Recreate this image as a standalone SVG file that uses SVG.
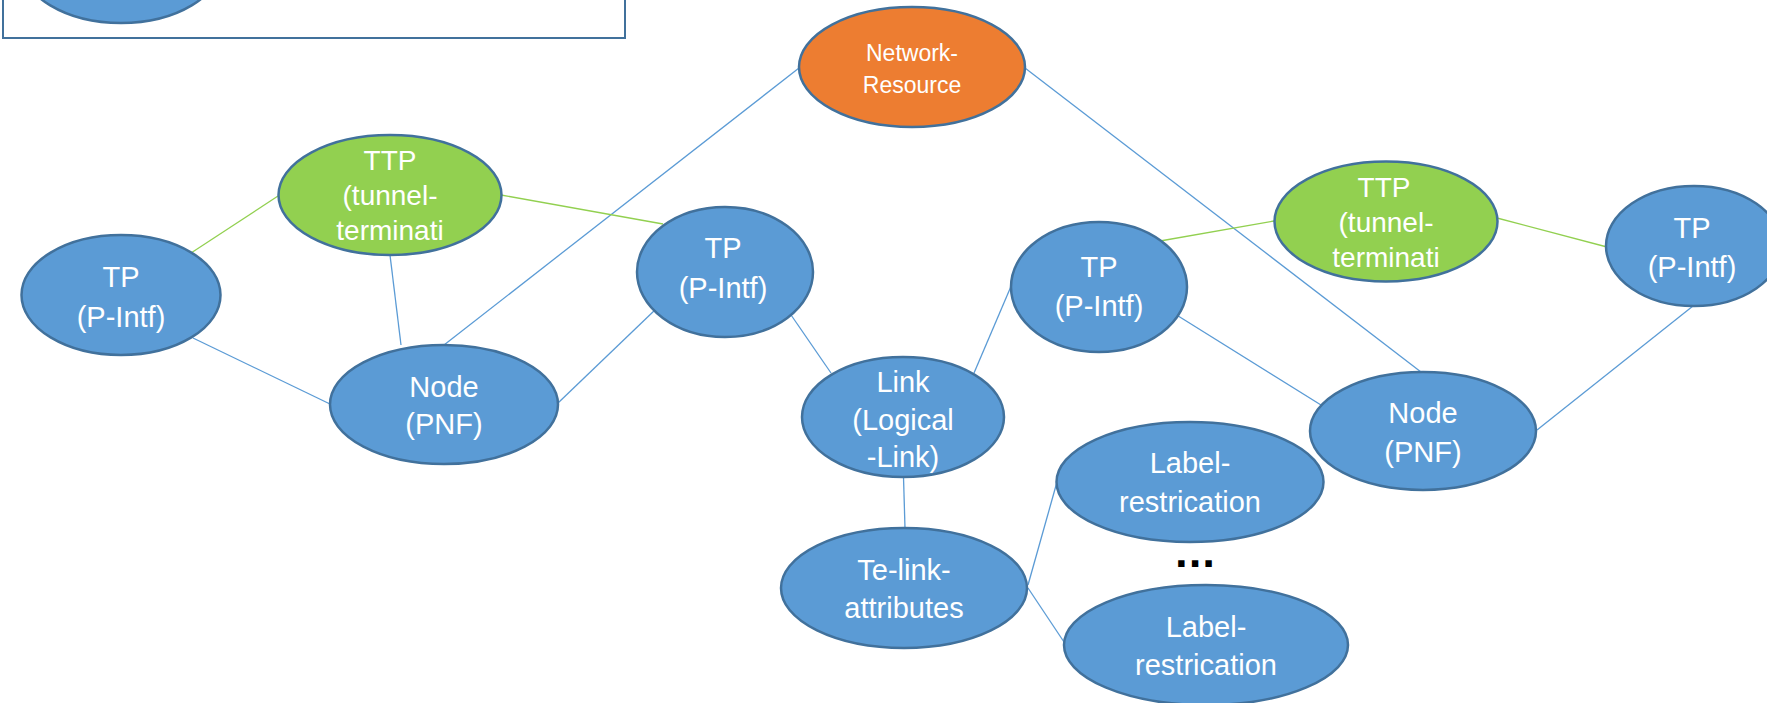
<svg xmlns="http://www.w3.org/2000/svg" width="1767" height="703" viewBox="0 0 1767 703">
<style>
.b{fill:#5b9bd5;stroke:#41719c;stroke-width:2.5}
.g{fill:#92d050;stroke:#41719c;stroke-width:2.5}
.o{fill:#ed7d31;stroke:#41719c;stroke-width:2.5}
.cb{stroke:#5b9bd5;stroke-width:1.3;fill:none}
.cg{stroke:#92d050;stroke-width:1.3;fill:none}
text{font-family:"Liberation Sans",Arial,sans-serif;fill:#ffffff;text-anchor:middle}
.t29{font-size:29px}
.t28{font-size:28px}
.t23{font-size:23px}
</style>
<rect width="1767" height="703" fill="#ffffff"/>
<g id="legend">
<rect x="3" y="-10" width="622" height="48" fill="none" stroke="#41719c" stroke-width="2"/>
<ellipse class="b" cx="121" cy="-37" rx="100" ry="60"/>
</g>
<g id="connectors">
<line class="cb" x1="799" y1="68" x2="444" y2="345"/>
<line class="cb" x1="1025" y1="68" x2="1421" y2="372"/>
<line class="cb" x1="193" y1="338" x2="330" y2="404"/>
<line class="cb" x1="390" y1="255" x2="401" y2="345"/>
<line class="cb" x1="558" y1="403" x2="656" y2="309"/>
<line class="cb" x1="789" y1="312" x2="831" y2="373"/>
<line class="cb" x1="974" y1="373" x2="1012" y2="284"/>
<line class="cb" x1="1175" y1="314" x2="1321" y2="405"/>
<line class="cb" x1="1693" y1="306" x2="1537" y2="430"/>
<line class="cb" x1="903.5" y1="477" x2="905" y2="528"/>
<line class="cb" x1="1028" y1="585" x2="1057" y2="482"/>
<line class="cb" x1="1028" y1="588" x2="1064" y2="642"/>
<line class="cg" x1="191" y1="253" x2="278" y2="196"/>
<line class="cg" x1="501" y1="195" x2="663" y2="224"/>
<line class="cg" x1="1160" y1="241" x2="1274" y2="221"/>
<line class="cg" x1="1497" y1="218" x2="1607" y2="247"/>
</g>
<g id="network-resource">
<ellipse class="o" cx="912" cy="67" rx="113" ry="60"/>
<text class="t23" x="912" y="61">Network-</text>
<text class="t23" x="912" y="93">Resource</text>
</g>
<g id="ttp-left">
<ellipse class="g" cx="390" cy="195" rx="111.5" ry="60"/>
<text class="t28" x="390" y="170">TTP</text>
<text class="t28" x="390" y="205">(tunnel-</text>
<text class="t28" x="390" y="240">terminati</text>
</g>
<g id="tp-left">
<ellipse class="b" cx="121" cy="295" rx="99.5" ry="60"/>
<text class="t29" x="121" y="287">TP</text>
<text class="t29" x="121" y="327">(P-Intf)</text>
</g>
<g id="node-left">
<ellipse class="b" cx="444" cy="404.5" rx="114" ry="59.5"/>
<text class="t29" x="444" y="397">Node</text>
<text class="t29" x="444" y="434">(PNF)</text>
</g>
<g id="tp-mid">
<ellipse class="b" cx="725" cy="272" rx="88" ry="65"/>
<text class="t29" x="723" y="258">TP</text>
<text class="t29" x="723" y="298">(P-Intf)</text>
</g>
<g id="link">
<ellipse class="b" cx="903" cy="417" rx="101" ry="60"/>
<text class="t29" x="903" y="392">Link</text>
<text class="t29" x="903" y="430">(Logical</text>
<text class="t29" x="903" y="467">-Link)</text>
</g>
<g id="tp-mid2">
<ellipse class="b" cx="1099" cy="287" rx="88" ry="65"/>
<text class="t29" x="1099" y="277">TP</text>
<text class="t29" x="1099" y="316">(P-Intf)</text>
</g>
<g id="ttp-right">
<ellipse class="g" cx="1386" cy="221.5" rx="111.5" ry="60"/>
<text class="t28" x="1384" y="197">TTP</text>
<text class="t28" x="1386" y="232">(tunnel-</text>
<text class="t28" x="1386" y="267">terminati</text>
</g>
<g id="node-right">
<ellipse class="b" cx="1423" cy="431" rx="113" ry="59"/>
<text class="t29" x="1423" y="423">Node</text>
<text class="t29" x="1423" y="462">(PNF)</text>
</g>
<g id="tp-right">
<ellipse class="b" cx="1694" cy="246" rx="88" ry="60"/>
<text class="t29" x="1692" y="238">TP</text>
<text class="t29" x="1692" y="277">(P-Intf)</text>
</g>
<g id="te-link-attributes">
<ellipse class="b" cx="904" cy="588" rx="123" ry="60"/>
<text class="t29" x="904" y="580">Te-link-</text>
<text class="t29" x="904" y="618">attributes</text>
</g>
<g id="label-restriction-1">
<ellipse class="b" cx="1190" cy="482" rx="133.5" ry="60"/>
<text class="t29" x="1190" y="473">Label-</text>
<text class="t29" x="1190" y="512">restrication</text>
</g>
<g id="ellipsis">
<text x="1195" y="567" style="font-family:'DejaVu Sans',sans-serif;font-weight:bold;font-size:36px;fill:#000000">...</text>
</g>
<g id="label-restriction-2">
<ellipse class="b" cx="1206" cy="645" rx="142" ry="60"/>
<text class="t29" x="1206" y="637">Label-</text>
<text class="t29" x="1206" y="675">restrication</text>
</g>
</svg>
